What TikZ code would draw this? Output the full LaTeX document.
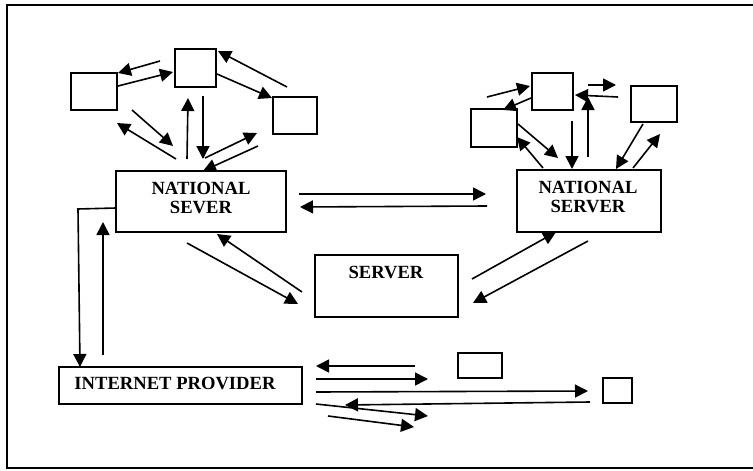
\documentclass[tikz,border=0pt]{standalone}
\usepackage{fontspec}
\setmainfont{Liberation Serif}
\usetikzlibrary{arrows.meta}
\tikzset{
  frameline/.style={line width=1.8pt,black},
  boxst/.style={draw=black,line width=1.8pt,fill=white,inner sep=0pt,outer sep=0pt},
  wire/.style={line width=1.6pt,black},
  arrowline/.style={wire,-{Triangle[length=13pt,width=13pt]}},
  labelst/.style={font=\bfseries\fontsize{18.6}{20}\selectfont,inner sep=0pt,text=black}
}
\newcommand{\mybox}[5]{\node[boxst,minimum width=#4-#2,minimum height=#5-#3] (#1) at ({(#2+#4)/2},{(#3+#5)/2}) {};}
\newcommand{\myarrow}[5]{\coordinate (#1s) at (#2,#3); \coordinate (#1e) at (#4,#5); \draw[arrowline] (#1s) -- (#1e);}
\begin{document}
\begin{tikzpicture}[x=1pt,y=-1pt]
\useasboundingbox (0,0) rectangle (753,471);
\fill[white] (0,0) rectangle (753,471);
\coordinate (frA) at (753,5); \coordinate (frB) at (7,5); \coordinate (frC) at (7,468); \coordinate (frD) at (753,468);
\draw[frameline] (frA) -- (frB) -- (frC) -- (frD);

\mybox{a}{71}{73}{117}{110}
\mybox{b}{175}{49}{216}{87}
\mybox{c}{273}{97}{317}{134}
\mybox{ns}{116}{171}{286}{232}
\mybox{d}{532}{73}{573}{110}
\mybox{e}{471}{109}{517}{147}
\mybox{f}{631}{86}{677}{122}
\mybox{nr}{517}{170}{661}{232}
\mybox{sv}{315}{255}{458}{317}
\mybox{ip}{59}{367}{302}{404}
\mybox{g}{458}{353}{502}{378}
\mybox{h}{603}{378}{632}{403}

\node[labelst] (t1) at (201,188) {NATIONAL};
\node[labelst] (t2) at (201,207) {SEVER};
\node[labelst] (t3) at (588,187) {NATIONAL};
\node[labelst] (t4) at (588,206) {SERVER};
\node[labelst] (t5) at (386,272) {SERVER};
\node[labelst] (t6) at (175,383) {INTERNET PROVIDER};

\myarrow{m1}{160}{61}{118}{73}
\myarrow{m2}{118}{86}{173}{72}
\myarrow{m3}{287}{87}{218}{51}
\myarrow{m4}{217}{74}{272}{98}
\myarrow{m5}{132}{110}{173}{146}
\myarrow{m6}{176}{159}{117}{123}
\myarrow{m7}{187}{159}{188}{98}
\myarrow{m8}{203}{96}{203}{159}
\myarrow{m9}{205}{158}{257}{133}
\myarrow{m10}{258}{146}{203}{171}
\myarrow{m11}{299}{194}{486}{194}
\myarrow{m12}{487}{206}{300}{207}
\coordinate (el1) at (116,208); \coordinate (el2) at (78,209); \coordinate (el3) at (80,367);
\draw[arrowline] (el1) -- (el2) -- (el3);
\myarrow{m13}{103}{355}{103}{222}
\myarrow{m14}{187}{243}{298}{304}
\myarrow{m15}{302}{292}{217}{234}
\myarrow{m16}{487}{97}{530}{86}
\myarrow{m17}{531}{98}{503}{110}
\myarrow{m18}{588}{85}{616}{85}
\myarrow{m19}{618}{97}{575}{95}
\myarrow{m20}{588}{157}{588}{97}
\myarrow{m21}{572}{121}{572}{169}
\myarrow{m22}{518}{124}{558}{158}
\myarrow{m23}{543}{168}{517}{137}
\myarrow{m24}{643}{124}{616}{169}
\myarrow{m25}{633}{168}{660}{134}
\myarrow{m26}{472}{279}{556}{232}
\myarrow{m27}{588}{241}{473}{303}
\myarrow{m28}{415}{366}{316}{366}
\myarrow{m29}{316}{379}{428}{379}
\myarrow{m30}{316}{392}{588}{391}
\myarrow{m31}{590}{402}{345}{405}
\myarrow{m32}{316}{404}{428}{416}
\myarrow{m33}{328}{416}{414}{427}
\end{tikzpicture}
\end{document}
